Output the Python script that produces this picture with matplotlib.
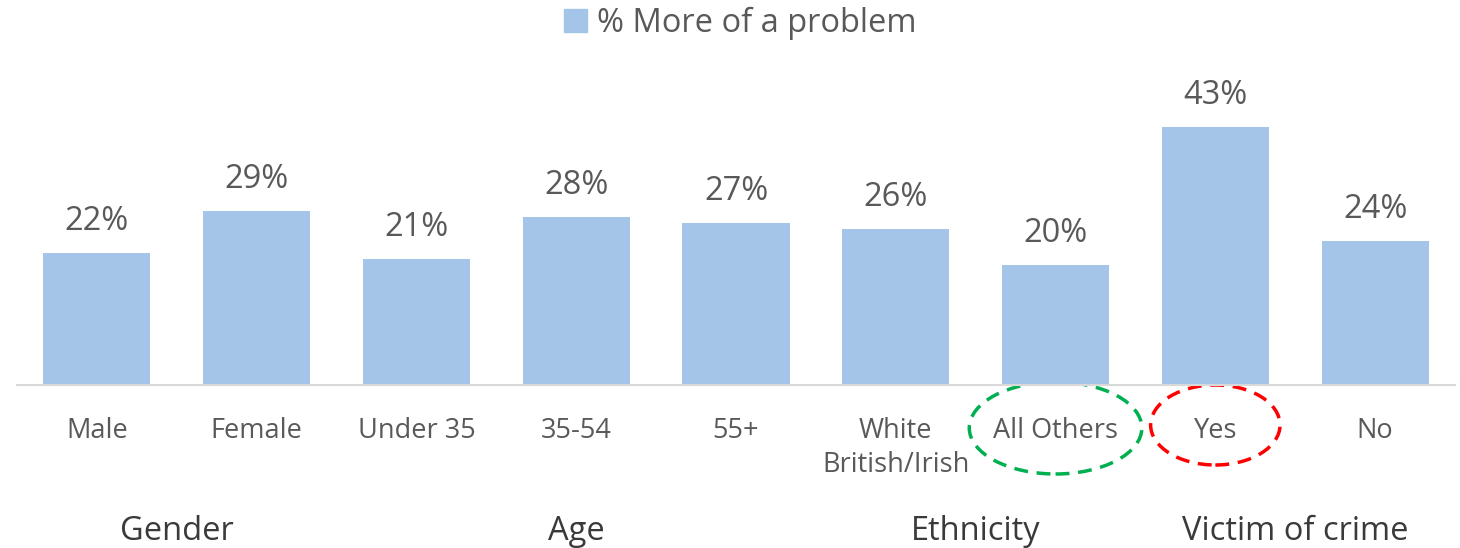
import matplotlib
matplotlib.use("Agg")
import matplotlib.pyplot as plt
from matplotlib.patches import Ellipse, Patch
from matplotlib.transforms import blended_transform_factory

categories = ["Male", "Female", "Under 35", "35-54", "55+", "White\nBritish/Irish", "All Others", "Yes", "No"]
values = [22, 29, 21, 28, 27, 26, 20, 43, 24]
groups = ["Gender", "Age", "Ethnicity", "Victim of crime"]
group_centers = [0.5, 3.0, 5.5, 7.5]
series_name = "% More of a problem"

BAR = "#A4C4E8"
TXT = "#595959"
plt.rcParams['font.family'] = ['Open Sans', 'DejaVu Sans']

W, H = 1460, 548
fig = plt.figure(figsize=(W/100, H/100), dpi=100)
ax = fig.add_axes([17/W, 163/H, 1438/W, 300/H])
x = list(range(len(categories)))
ax.bar(x, values, width=0.67, color=BAR, zorder=2)
ax.set_xlim(-0.5, len(categories) - 0.5)
ax.set_ylim(0, 50)
for xi, v in zip(x, values):
    ax.annotate(f"{v}%", (xi, v), xytext=(0, 23), textcoords="offset points",
                ha="center", va="center", fontsize=23.5, color=TXT)
ax.set_xticks(x)
ax.set_xticklabels(categories, fontsize=19.5, color=TXT, linespacing=1.3)
ax.tick_params(axis="x", length=0, pad=23)
ax.set_yticks([])
for s in ["top", "right", "left"]:
    ax.spines[s].set_visible(False)
ax.spines["bottom"].set_color("#d9d9d9")
ax.spines["bottom"].set_linewidth(1.5)

# group labels
gt = blended_transform_factory(ax.transData, fig.dpi_scale_trans)
for g, c in zip(groups, group_centers):
    ax.text(c, (H - 531) / 100, g, transform=gt, ha="center", va="center",
            fontsize=23.5, color="#3a3a3a", clip_on=False)

# highlight ellipses
ax.add_patch(Ellipse((6, (H - 428) / 100), 1.08, 0.92, transform=gt, fill=False,
                     edgecolor="#00B050", linestyle=(0, (4, 2.5)), linewidth=2.5, clip_on=False))
ax.add_patch(Ellipse((7, (H - 425) / 100), 0.81, 0.80, transform=gt, fill=False,
                     edgecolor="#FF0000", linestyle=(0, (4, 2.5)), linewidth=2.5, clip_on=False))

fig.legend(handles=[Patch(color=BAR, label=series_name)], loc="center",
           bbox_to_anchor=(0.507, 1 - 23 / H), frameon=False, fontsize=23.5,
           labelcolor=TXT, handlelength=0.7, handleheight=0.7, handletextpad=0.3)

fig.savefig("out.png", dpi=100, facecolor="white")
